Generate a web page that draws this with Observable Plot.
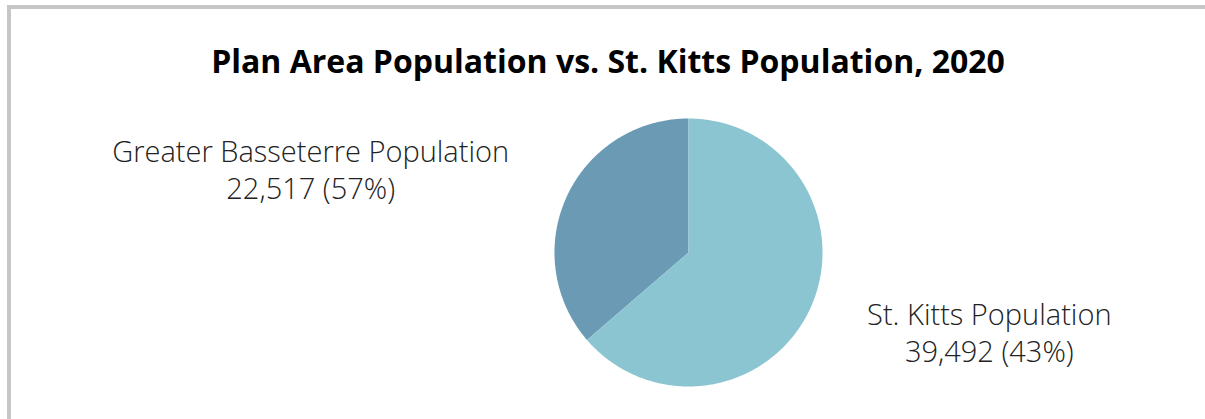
<!DOCTYPE html>
<html>
<head>
<meta charset="utf-8">
<script src="https://cdn.jsdelivr.net/npm/d3@7"></script>
<script src="https://cdn.jsdelivr.net/npm/@observablehq/plot@0.6"></script>
<style>
  html, body { margin: 0; padding: 0; background: #fff; }
  #frame {
    position: absolute; left: 7px; top: 5px; right: 0; bottom: 0;
    border-top: 4px solid #c6c6c6; border-left: 4px solid #c6c6c6;
    background: #fff;
  }
  #title {
    font-family: "Open Sans", sans-serif; font-weight: 700; font-size: 32px;
    color: #000; text-align: center; height: 81px; line-height: 32px;
    padding-top: 36px; box-sizing: border-box; margin: 0;
  }
  #chart svg { display: block; }
</style>
</head>
<body>
<div id="frame">
  <div id="title">Plan Area Population vs. St. Kitts Population, 2020</div>
  <div id="chart"></div>
</div>
<script>
// Data
const names = ["Greater Basseterre Population", "St. Kitts Population"];
const values = [22517, 39492];
const labelPercents = ["57%", "43%"];
const colors = ["#6b9ab5", "#8cc5d2"];

const data = names.map((name, i) => ({name, value: values[i], pct: labelPercents[i]}));

// Pie angles; first slice goes counterclockwise from 12 o'clock
const pie = d3.pie().value(d => d.value).sort(null)
  .startAngle(0).endAngle(-2 * Math.PI);
const arcs = pie(data);

// Slice outlines in unit coordinates (radius 1), y up
const points = [];
for (const a of arcs) {
  const a0 = a.startAngle, a1 = a.endAngle;
  const n = Math.max(2, Math.ceil(Math.abs(a1 - a0) / 0.01));
  points.push({name: a.data.name, x: 0, y: 0});
  for (let k = 0; k <= n; k++) {
    const t = a0 + (a1 - a0) * k / n;
    points.push({name: a.data.name, x: Math.sin(t), y: Math.cos(t)});
  }
}

// Label anchors: slice mid-angle on the rim
const labels = arcs.map(a => {
  const m = (a.startAngle + a.endAngle) / 2;
  return {
    name: a.data.name,
    x: Math.sin(m), y: Math.cos(m),
    text: a.data.name + "\n" + d3.format(",")(a.data.value) + " (" + a.data.pct + ")"
  };
});

const textStyle = {
  fontFamily: "Open Sans, sans-serif", fontSize: 29, fontWeight: 300,
  fill: "#222", lineHeight: 1.28, textAnchor: "middle"
};

const chart = Plot.plot({
  width: 1194, height: 330,
  margin: 0,
  x: {domain: [-1, 1], range: [543, 811], axis: null},
  y: {domain: [-1, 1], range: [296, 28], axis: null},
  color: {domain: names, range: colors},
  style: {background: "transparent"},
  marks: [
    Plot.line(points, {x: "x", y: "y", z: "name", fill: "name", stroke: "none", curve: "linear-closed"}),
    Plot.text(labels.filter(d => d.x < 0), {x: "x", y: "y", text: "text", dx: -256, dy: -28, ...textStyle}),
    Plot.text(labels.filter(d => d.x > 0), {x: "x", y: "y", text: "text", dx: 179, dy: 23, ...textStyle})
  ]
});
document.getElementById("chart").appendChild(chart);
</script>
</body>
</html>
